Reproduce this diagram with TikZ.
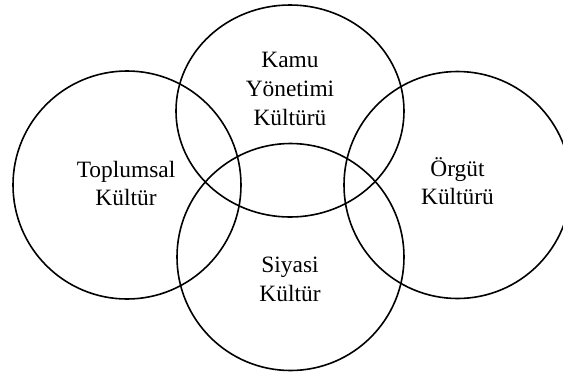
\documentclass[tikz,border=0pt]{standalone}
\usepackage{fontspec}
\setmainfont{Liberation Serif}
\usetikzlibrary{shapes.geometric}
\begin{document}
\begin{tikzpicture}[x=0.5pt, y=-0.5pt, every node/.style={inner sep=0pt, outer sep=0pt},
    ring/.style={draw, line width=0.8pt, circle, minimum size=#1},
    txt/.style={align=center, font=\fontsize{11.7}{14.3}\selectfont}]
    \useasboundingbox (0,0) rectangle (563,376);

    \node (toplum) at (127,185) [ring=114pt] {};
    \node (kamu) at (290,111) [draw, line width=0.8pt, ellipse, minimum width=114pt, minimum height=106pt] {};
    \node (siyasi) at (290.5,257) [ring=113.5pt] {};
    \node (orgut) at (457.5,185) [ring=113.5pt] {};

    \node (toplumT) at (126,183.5) [txt] {Toplumsal\\Kültür};
    \node (kamuT) at (290,89) [txt] {Kamu\\Yönetimi\\Kültürü};
    \node (siyasiT) at (290,279.5) [txt] {Siyasi\\Kültür};
    \node (orgutT) at (457.5,181) [txt] {Örgüt\\Kültürü};
\end{tikzpicture}
\end{document}
